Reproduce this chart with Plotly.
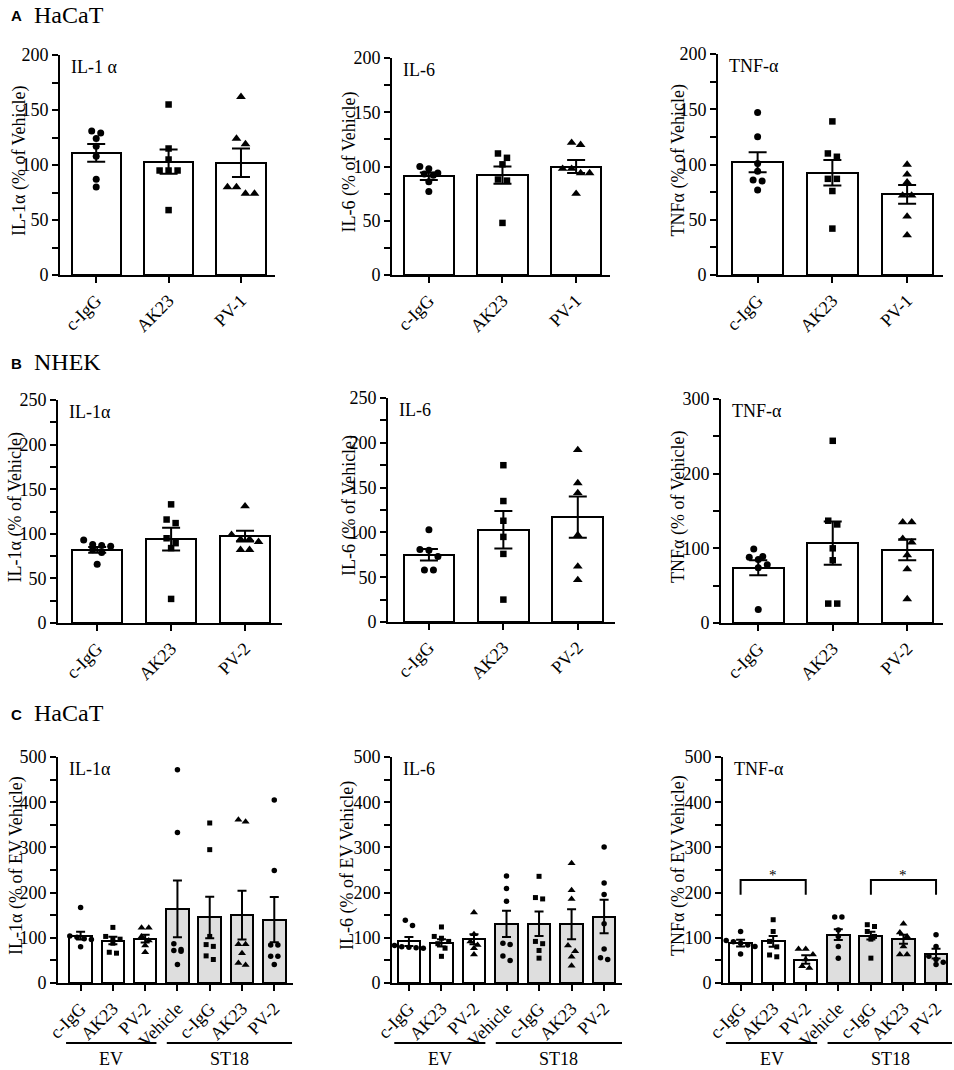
import plotly.graph_objects as go

W, H = 954, 1070
SERIF = "Liberation Serif"
SANS = "Liberation Sans"

# ---------------- DATA ----------------
cats_A = ["c-IgG", "AK23", "PV-1"]
cats_B = ["c-IgG", "AK23", "PV-2"]
cats_C = ["c-IgG", "AK23", "PV-2", "Vehicle", "c-IgG", "AK23", "PV-2"]

# Panel A (HaCaT)
A_il1a_mean = [111, 103, 102]
A_il1a_sem = [8, 11, 13]
A_il1a_pts = [[131, 129, 124, 117, 108, 87, 80],
              [155, 115, 105, 95, 95, 95, 59],
              [162, 124, 119, 80, 80, 74, 74]]

A_il6_mean = [91, 92, 100]
A_il6_sem = [3.5, 8, 6]
A_il6_pts = [[100, 98, 94, 93, 92, 86, 77],
             [112, 108, 102, 88, 87, 48],
             [122, 120, 98, 98, 94, 94, 75]]

A_tnf_mean = [102, 92.5, 73]
A_tnf_sem = [9, 11.5, 8.5]
A_tnf_pts = [[147, 125, 101, 94, 86, 85, 77],
             [139, 110, 107, 87, 87, 76, 42],
             [100, 91, 84, 72, 72, 53, 36]]

# Panel B (NHEK)
B_il1a_mean = [82, 94, 97.5]
B_il1a_sem = [3.3, 12.7, 6]
B_il1a_pts = [[93, 88, 87, 86, 82, 79, 66],
              [133, 116, 112, 95, 89.5, 84, 27],
              [131, 99, 94, 94, 91, 82, 82]]

B_il6_mean = [75, 103, 117]
B_il6_sem = [6.5, 21, 23]
B_il6_pts = [[103, 81, 80, 73, 58, 58],
             [175, 135, 113, 95, 76, 25],
             [192, 155, 144, 97, 62, 47]]

B_tnf_mean = [74, 107, 98]
B_tnf_sem = [10, 29, 14]
B_tnf_pts = [[99, 89, 88, 85, 78, 74, 18],
             [244, 137, 132, 100, 84, 26, 26],
             [135, 135, 113, 108, 91, 72, 32]]

# Panel C (HaCaT, EV vs ST18)
C_il1a_mean = [105, 94, 98, 164, 145, 150, 140]
C_il1a_sem = [8.5, 8.5, 8.5, 63, 46, 54, 50]
C_il1a_pts = [[167, 104, 101, 98, 96, 80],
              [123, 103, 97, 97, 88, 68, 66],
              [122, 122, 103, 94, 83, 68],
              [472, 333, 87, 74, 72, 70, 41],
              [354, 295, 103, 85, 81, 60, 52],
              [361, 357, 86, 86, 66, 44, 40],
              [405, 249, 84, 84, 59, 59, 41]]

C_il6_mean = [92, 89, 97, 131, 131, 130, 147]
C_il6_sem = [10, 8, 11, 29, 27, 33, 37]
C_il6_pts = [[139, 127, 83, 80, 79, 78, 77],
             [124, 103, 99, 92, 87, 77, 59],
             [156, 108, 92, 84, 77, 63],
             [237, 209, 181, 88, 85, 60, 50],
             [236, 189, 186, 92, 87, 72, 55],
             [265, 205, 186, 83, 70, 58, 38],
             [301, 221, 196, 131, 75, 56, 52]]

C_tnf_mean = [88, 92, 52, 107, 105, 97, 65]
C_tnf_sem = [7.5, 12, 9.5, 12, 8.5, 10, 11]
C_tnf_pts = [[114, 94, 91, 88, 84, 81, 64],
             [140, 114, 92, 80, 62, 58],
             [75, 75, 63, 52, 37, 33],
             [146, 146, 117, 103, 81, 55],
             [129, 125, 114, 103, 97, 55],
             [131, 112, 103, 81, 63, 63],
             [107, 81, 59, 52, 46, 41]]

sym_AB = ["circle", "square", "triangle-up"]
sym_C = ["circle", "square", "triangle-up", "circle", "square", "triangle-up", "circle"]
fill_C = ["white", "white", "white", "#dedede", "#dedede", "#dedede", "#dedede"]

# ---------------- LAYOUT GEOMETRY (pixels) ----------------
panels = [
    dict(x0=60, x1=275, yt=55, yb=275, ymax=200, xr=[-0.5, 2.47], step=25, lab=50,
         cats=cats_A, mean=A_il1a_mean, sem=A_il1a_sem, pts=A_il1a_pts, sym=sym_AB, fill=["white"] * 3,
         title="IL-1 α", ytitle="IL-1α (% of Vehicle)", tx=19),
    dict(x0=392, x1=610, yt=58, yb=275, ymax=200, xr=[-0.5, 2.46], step=25, lab=50,
         cats=cats_A, mean=A_il6_mean, sem=A_il6_sem, pts=A_il6_pts, sym=sym_AB, fill=["white"] * 3,
         title="IL-6", ytitle="IL-6 (% of Vehicle)", tx=349),
    dict(x0=718, x1=943, yt=54, yb=275, ymax=200, xr=[-0.53, 2.48], step=25, lab=50,
         cats=cats_A, mean=A_tnf_mean, sem=A_tnf_sem, pts=A_tnf_pts, sym=sym_AB, fill=["white"] * 3,
         title="TNF-α", ytitle="TNFα (% of Vehicle)", tx=678),
    dict(x0=58, x1=282, yt=400, yb=623, ymax=250, xr=[-0.53, 2.5], step=25, lab=50,
         cats=cats_B, mean=B_il1a_mean, sem=B_il1a_sem, pts=B_il1a_pts, sym=sym_AB, fill=["white"] * 3,
         title="IL-1α", ytitle="IL-1α (% of Vehicle)", tx=15),
    dict(x0=388, x1=615, yt=398, yb=622, ymax=250, xr=[-0.55, 2.5], step=25, lab=50,
         cats=cats_B, mean=B_il6_mean, sem=B_il6_sem, pts=B_il6_pts, sym=sym_AB, fill=["white"] * 3,
         title="IL-6", ytitle="IL-6 (% of Vehicle)", tx=349),
    dict(x0=721, x1=943, yt=399, yb=623, ymax=300, xr=[-0.5, 2.48], step=50, lab=100,
         cats=cats_B, mean=B_tnf_mean, sem=B_tnf_sem, pts=B_tnf_pts, sym=sym_AB, fill=["white"] * 3,
         title="TNF-α", ytitle="TNFα (% of Vehicle)", tx=678),
    dict(x0=58, x1=293, yt=757, yb=983, ymax=500, xr=[-0.7, 6.58], step=50, lab=100,
         cats=cats_C, mean=C_il1a_mean, sem=C_il1a_sem, pts=C_il1a_pts, sym=sym_C, fill=fill_C,
         title="IL-1α", ytitle="IL-1α (% of EV Vehicle)", tx=16),
    dict(x0=392, x1=622, yt=757, yb=983, ymax=500, xr=[-0.52, 6.55], step=50, lab=100,
         cats=cats_C, mean=C_il6_mean, sem=C_il6_sem, pts=C_il6_pts, sym=sym_C, fill=fill_C,
         title="IL-6", ytitle="IL-6 (% of EV Vehicle)", tx=347),
    dict(x0=723, x1=952, yt=757, yb=983, ymax=500, xr=[-0.54, 6.49], step=50, lab=100,
         cats=cats_C, mean=C_tnf_mean, sem=C_tnf_sem, pts=C_tnf_pts, sym=sym_C, fill=fill_C,
         title="TNF-α", ytitle="TNFα (% of EV Vehicle)", tx=678),
]


def px(x):
    return x / W


def py(y):
    return 1 - y / H


def swarm(vals, ppu, ppc, d):
    """simple centred beeswarm: cluster values closer than d pixels and spread them horizontally"""
    n = len(vals)
    order = sorted(range(n), key=lambda i: -vals[i])
    clusters = []
    for i in order:
        if clusters and (vals[clusters[-1][0]] - vals[i]) * ppu < d:
            clusters[-1].append(i)
        else:
            clusters.append([i])
    offs = [0.0] * n
    for c in clusters:
        m = len(c)
        for k, i in enumerate(c):
            offs[i] = (k - (m - 1) / 2) * d * 1.2 / ppc
    return offs


fig = go.Figure()
annotations = []
shapes = []

for k, p in enumerate(panels):
    idx = "" if k == 0 else str(k + 1)
    xa, ya = "x" + idx, "y" + idx
    n = len(p["cats"])
    xs = list(range(n))
    small = n > 3
    ppu = (p["yb"] - p["yt"]) / p["ymax"]
    ppc = (p["x1"] - p["x0"]) / (p["xr"][1] - p["xr"][0])
    msize = 5.5 if small else 7

    fig.add_trace(go.Bar(
        x=xs, y=p["mean"], xaxis=xa, yaxis=ya, width=0.68 if not small else 0.7,
        marker=dict(color=p["fill"], line=dict(color="black", width=2)),
        showlegend=False, hoverinfo="skip"))

    for i in range(n):
        vals = p["pts"][i]
        offs = swarm(vals, ppu, ppc, msize + 0.5)
        sym = p["sym"][i]
        sz = msize + (1.5 if sym == "triangle-up" else 0) - (0.5 if sym == "square" else 0)
        fig.add_trace(go.Scatter(
            x=[i + o for o in offs], y=vals, xaxis=xa, yaxis=ya, mode="markers",
            marker=dict(symbol=sym, size=sz, color="black", line=dict(width=0)),
            showlegend=False, hoverinfo="skip"))

    fig.add_trace(go.Scatter(
        x=xs, y=p["mean"], xaxis=xa, yaxis=ya, mode="markers",
        marker=dict(size=1, color="rgba(0,0,0,0)"),
        error_y=dict(type="data", array=p["sem"], color="black", thickness=2,
                     width=4.5 if small else 9),
        showlegend=False, hoverinfo="skip"))

    tv = list(range(0, p["ymax"] + 1, p["step"]))
    tt = [str(v) if v % p["lab"] == 0 else "" for v in tv]
    fs = 18
    fig.layout["xaxis" + idx] = dict(
        domain=[px(p["x0"]), px(p["x1"])], range=p["xr"], anchor=ya, automargin=False,
        tickmode="array", tickvals=xs, ticktext=p["cats"], tickangle=-45,
        ticks="outside", ticklen=6, tickwidth=2, tickcolor="black",
        showline=True, linewidth=2, linecolor="black", showgrid=False, zeroline=False,
        tickfont=dict(family=SERIF, size=fs, color="black"), fixedrange=True)
    fig.layout["yaxis" + idx] = dict(
        domain=[py(p["yb"]), py(p["yt"])], range=[0, p["ymax"]], anchor=xa, automargin=False,
        tickmode="array", tickvals=tv, ticktext=tt,
        ticks="outside", ticklen=6, tickwidth=2, tickcolor="black",
        showline=True, linewidth=2, linecolor="black", showgrid=False, zeroline=False,
        tickfont=dict(family=SERIF, size=fs, color="black"), fixedrange=True)

    annotations.append(dict(
        text=p["title"], xref=xa + " domain", yref=ya + " domain", x=0.04, y=1.0,
        xanchor="left", yanchor="top", showarrow=False,
        font=dict(family=SERIF, size=18, color="black")))
    annotations.append(dict(
        text=p["ytitle"], xref="paper", yref="paper", x=px(p["tx"]),
        y=py((p["yt"] + p["yb"]) / 2 - 4), xanchor="center", yanchor="middle",
        textangle=-90, showarrow=False, font=dict(family=SERIF, size=18, color="black")))

    if small:
        for (a, b, lbl) in [(-0.45, 2.35, "EV"), (2.67, 6.55, "ST18")]:
            shapes.append(dict(type="line", xref=xa, yref="paper", x0=a, x1=b,
                               y0=py(1043), y1=py(1043), line=dict(color="black", width=2)))
            annotations.append(dict(text=lbl, xref=xa, yref="paper", x=(a + b) / 2, y=py(1059),
                                    xanchor="center", yanchor="middle", showarrow=False,
                                    font=dict(family=SERIF, size=18, color="black")))

for (a, b) in [(0, 2), (4, 6)]:
    shapes.append(dict(type="path", xref="x9", yref="y9",
                       path=f"M {a},195 L {a},228 L {b},228 L {b},195",
                       line=dict(color="black", width=2)))
    annotations.append(dict(text="*", xref="x9", yref="y9", x=(a + b) / 2, y=238,
                            xanchor="center", yanchor="middle", showarrow=False,
                            font=dict(family=SERIF, size=15, color="black")))

for (letter, name, yc) in [("A", "HaCaT", 15), ("B", "NHEK", 362), ("C", "HaCaT", 713)]:
    annotations.append(dict(text=f"<b>{letter}</b>", xref="paper", yref="paper", x=px(9), y=py(yc + 1),
                            xanchor="left", yanchor="middle", showarrow=False,
                            font=dict(family=SANS, size=15, color="black")))
    annotations.append(dict(text=name, xref="paper", yref="paper", x=px(32), y=py(yc),
                            xanchor="left", yanchor="middle", showarrow=False,
                            font=dict(family=SERIF, size=24, color="black")))

fig.update_layout(
    template="none",
    width=W, height=H, margin=dict(l=0, r=0, t=0, b=0, autoexpand=False),
    paper_bgcolor="white", plot_bgcolor="rgba(0,0,0,0)",
    annotations=annotations, shapes=shapes, bargap=0, showlegend=False,
    font=dict(family=SERIF, color="black"))

fig.write_html("out.html", config={"displayModeBar": False},
               post_script="document.body.style.margin='0';document.body.style.padding='0';")
